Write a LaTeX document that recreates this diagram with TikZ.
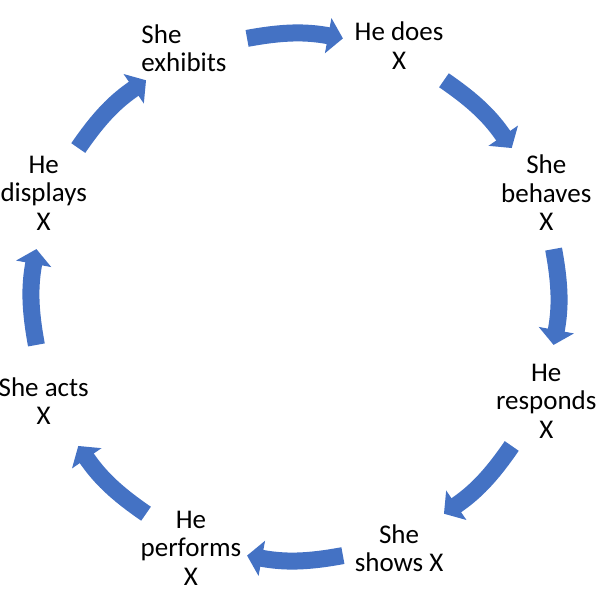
\documentclass[tikz,border=0pt]{standalone}
\usepackage{fontspec}
\setmainfont{Carlito}
\usepackage{tikz}
\usetikzlibrary{arrows.meta}
\definecolor{cycblue}{HTML}{4472C4}

\begin{document}
\begin{tikzpicture}
    \tikzstyle{phrase} = [align=center, inner sep=0pt, font=\fontsize{27}{28.5}\selectfont]
    \tikzstyle{cyc} = [cycblue, line width=17pt, -{Triangle[length=15pt, width=35pt]}]
    \useasboundingbox (-295pt,-298pt) rectangle (305pt,297pt);

    \node [phrase, align=left] (exhibits) at (-111pt,249pt) {She\\exhibits};
    \node [phrase] (does) at (67.5:272pt) {He does\\X};
    \node [phrase] (behaves) at (22.5:272pt) {She\\behaves\\X};
    \node [phrase] (responds) at (-22.5:272pt) {He\\responds\\X};
    \node [phrase] (shows) at (-67.5:272pt) {She\\shows X};
    \node [phrase] (performs) at (-112.5:272pt) {He\\performs\\X};
    \node [phrase] (acts) at (-157.5:272pt) {She acts\\X};
    \node [phrase] (displays) at (157.5:272pt) {He\\displays\\X};

    % arrows round the cycle, one between each pair of phrases
    \foreach \a [count=\i] in {90,45,0,-45,-90,-135,180,135} {
        \coordinate (s\i) at ({\a+10.5}:263pt);
        \coordinate (e\i) at ({\a-10.5}:263pt);
        \draw [cyc] (s\i) to[bend left=10.5] (e\i);
    }
\end{tikzpicture}
\end{document}
